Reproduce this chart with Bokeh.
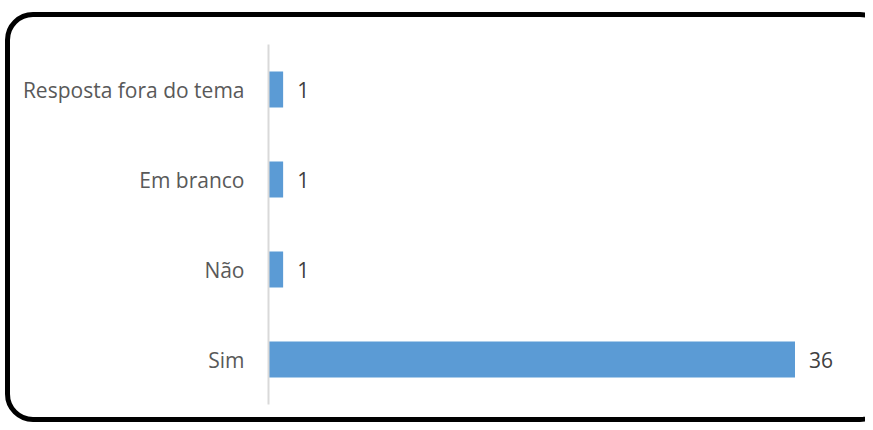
from bokeh.plotting import figure
from bokeh.models import Range1d, FactorRange, ColumnDataSource, InlineStyleSheet
from bokeh.core.properties import value
from bokeh.embed import file_html
from bokeh.resources import INLINE

categories = ["Sim", "Não", "Em branco", "Resposta fora do tema"]
counts = [36, 1, 1, 1]
labels = [str(c) for c in counts]

src = ColumnDataSource(dict(cat=categories, val=counts, lab=labels))

p = figure(width=865, height=422, output_backend="svg", toolbar_location=None,
           y_range=FactorRange(*categories), x_range=Range1d(0, 40),
           min_border_left=268, min_border_right=12, min_border_top=44, min_border_bottom=18)
p.outline_line_color = None
p.background_fill_color = "white"
p.border_fill_color = "white"
p.xgrid.visible = False
p.ygrid.visible = False
p.xaxis.visible = False

ax = p.yaxis[0]
ax.axis_line_color = "#D9D9D9"
ax.axis_line_width = 2
ax.major_tick_line_color = None
ax.minor_tick_line_color = None
ax.major_tick_out = 0
ax.major_tick_in = 0
ax.major_label_text_font = "Open Sans"
ax.major_label_text_font_size = "21px"
ax.major_label_text_color = "#595959"
ax.major_label_standoff = 24

p.hbar(y="cat", right="val", left=0, height=0.4, source=src,
       fill_color="#5B9BD5", line_color=None)

p.text(x="val", y="cat", text="lab", source=src, x_offset=14,
       text_font=value("Open Sans"), text_font_size="21px", text_color="#404040",
       text_baseline="middle", text_align="left")

# rounded outer frame drawn as an overlay that does not affect the layout
p.stylesheets = [InlineStyleSheet(css="""
:host { position: relative; overflow: hidden; }
:host::after {
  content: '';
  position: absolute;
  left: 5px; top: 12px;
  width: 883px; height: 410px;
  box-sizing: border-box;
  border: 5px solid black;
  border-radius: 28px;
  pointer-events: none;
  z-index: 10;
}
""")]

open("out.html", "w").write(file_html(p, INLINE))
